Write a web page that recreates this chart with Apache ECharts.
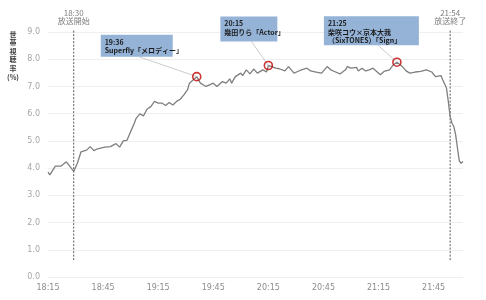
<!DOCTYPE html>
<html><head><meta charset="utf-8">
<script src="https://cdn.jsdelivr.net/npm/echarts@6/dist/echarts.min.js"></script>
<style>html,body{margin:0;padding:0;background:#fff}#c{width:486px;height:300px}</style>
</head><body><div id="c"></div>
<script>
// minutes elapsed since 18:15
const minutes = [0,1,4,7,10,14,16,18,21,23,25,27,31,34,35,37,39,41,43,45,47,48,50,52,54,56,58,60,62,64,66,68,70,72,74,76,77,79,81,83,86,88,90,92,95,97,99,100,102,105,106,108,110,112,114,117,119,120,124,126,129,131,134,136,138,141,143,144,146,149,152,154,156,159,162,163,165,168,169,171,173,175,177,181,183,186,188,190,193,195,197,200,203,206,209,211,214,215,217,218,219,220,221,222,223,224,225,226];
const rating = [3.85,3.75,4.07,4.07,4.23,3.88,4.18,4.6,4.66,4.79,4.64,4.71,4.77,4.79,4.75,4.9,4.77,5.0,5.02,5.34,5.65,5.83,5.99,5.92,6.17,6.26,6.45,6.39,6.39,6.3,6.41,6.32,6.45,6.53,6.69,6.88,7.12,7.24,7.36,7.12,7.0,7.06,7.12,7.0,7.18,7.12,7.28,7.12,7.36,7.49,7.4,7.61,7.46,7.64,7.49,7.61,7.53,7.77,7.67,7.65,7.57,7.73,7.49,7.55,7.61,7.67,7.57,7.61,7.53,7.49,7.73,7.61,7.55,7.46,7.61,7.73,7.67,7.7,7.57,7.67,7.57,7.61,7.67,7.43,7.55,7.61,7.79,7.89,7.73,7.57,7.49,7.53,7.55,7.61,7.53,7.36,7.4,7.24,6.94,6.45,5.89,5.65,5.53,5.22,4.73,4.26,4.18,4.24];
const hlMinutes = [81,120,190];
const hlLabels = ['19:36\nSuperfly「メロディー」','20:15\n幾田りら「Actor」','21:25\n柴咲コウ×京本大我\n（SixTONES）「Sign」'];
const eventMinutes = [14,219];
const eventLabels = ['18:30\n放送開始','21:54\n放送終了'];
const eventSpan = [0.62,9.1];
const yTitle = ['世','帯','視','聴','率','(%)'];
const startHour = 18, startMin = 15;

function fmt(m){const t=startHour*60+startMin+m;const h=Math.floor(t/60),mm=t%60;return h+':'+(mm<10?'0':'')+mm;}

const ratingMap = {};
minutes.forEach((m,i)=>ratingMap[m]=rating[i]);

const chart = echarts.init(document.getElementById('c'));
const font = 'DejaVu Sans';
const series = [
  {type:'line',data:minutes.map((m,i)=>[m,rating[i]]),showSymbol:false,symbol:'none',
   lineStyle:{color:'#7f7f7f',width:1.3},z:3,animation:false},
  {type:'scatter',data:hlMinutes.map(m=>[m,ratingMap[m]]),symbol:'circle',symbolSize:8,
   itemStyle:{color:'rgba(255,255,255,0)',borderColor:'#c00000',borderWidth:1.6},z:5,animation:false}
];
eventMinutes.forEach(m=>{
  series.push({type:'line',data:eventSpan.map(v=>[m,v]),symbol:'none',clip:false,
    lineStyle:{color:'#595959',width:1,type:[2,1.5]},z:2,animation:false});
});
chart.setOption({
  animation:false,
  grid:{left:48,right:23,top:32,bottom:23},
  xAxis:{type:'value',min:0,max:226,interval:30,
    axisLine:{show:false},axisTick:{show:false},splitLine:{show:false},
    axisLabel:{formatter:fmt,color:'#8c8c8c',fontFamily:font,fontSize:8,margin:7,showMaxLabel:false}},
  yAxis:{type:'value',min:0,max:9,interval:1,
    axisLine:{show:false},axisTick:{show:false},
    splitLine:{lineStyle:{color:'#efefef',width:1}},
    axisLabel:{formatter:v=>v.toFixed(1),color:'#a6a6a6',fontFamily:font,fontSize:8,margin:8}},
  series:series
});

const boxes = [
  {dx:-96,dy:-42,w:72,h:22,lx:38},
  {dx:-48,dy:-49,w:57,h:25,lx:31},
  {dx:-73,dy:-46,w:95,h:29,lx:54}
];
const g = [];
hlMinutes.forEach((m,i)=>{
  const p = chart.convertToPixel({gridIndex:0},[m,ratingMap[m]]);
  const b = boxes[i];
  const x0 = p[0]+b.dx, y0 = p[1]+b.dy;
  g.push({type:'line',shape:{x1:x0+b.lx,y1:y0+b.h,x2:p[0],y2:p[1]},style:{stroke:'#bfbfbf',lineWidth:0.8},z:4});
  g.push({type:'rect',shape:{x:x0,y:y0,width:b.w,height:b.h},style:{fill:'#95b3d7'},z:6});
  g.push({type:'text',x:x0+4,y:y0+3,style:{text:hlLabels[i],fill:'#1a1a1a',fontFamily:'Noto Sans CJK JP',fontWeight:'bold',fontSize:7,lineHeight:8.5,verticalAlign:'top'},z:7});
});
eventMinutes.forEach((m,i)=>{
  const p = chart.convertToPixel({gridIndex:0},[m,eventSpan[1]]);
  g.push({type:'text',x:p[0],y:p[1]-4,style:{text:eventLabels[i],fill:'#7f7f7f',fontFamily:'Noto Sans CJK JP',fontSize:8,lineHeight:8.5,align:'center',verticalAlign:'bottom'},z:7});
});
yTitle.forEach((c,i)=>{
  g.push({type:'text',x:13,y:34+i*8.5+(i===5?1:0),style:{text:c,fill:'#404040',fontFamily:'Noto Sans CJK JP',fontWeight:'bold',fontSize:7,align:'center',verticalAlign:'middle'}});
});
chart.setOption({graphic:g});
</script></body></html>
